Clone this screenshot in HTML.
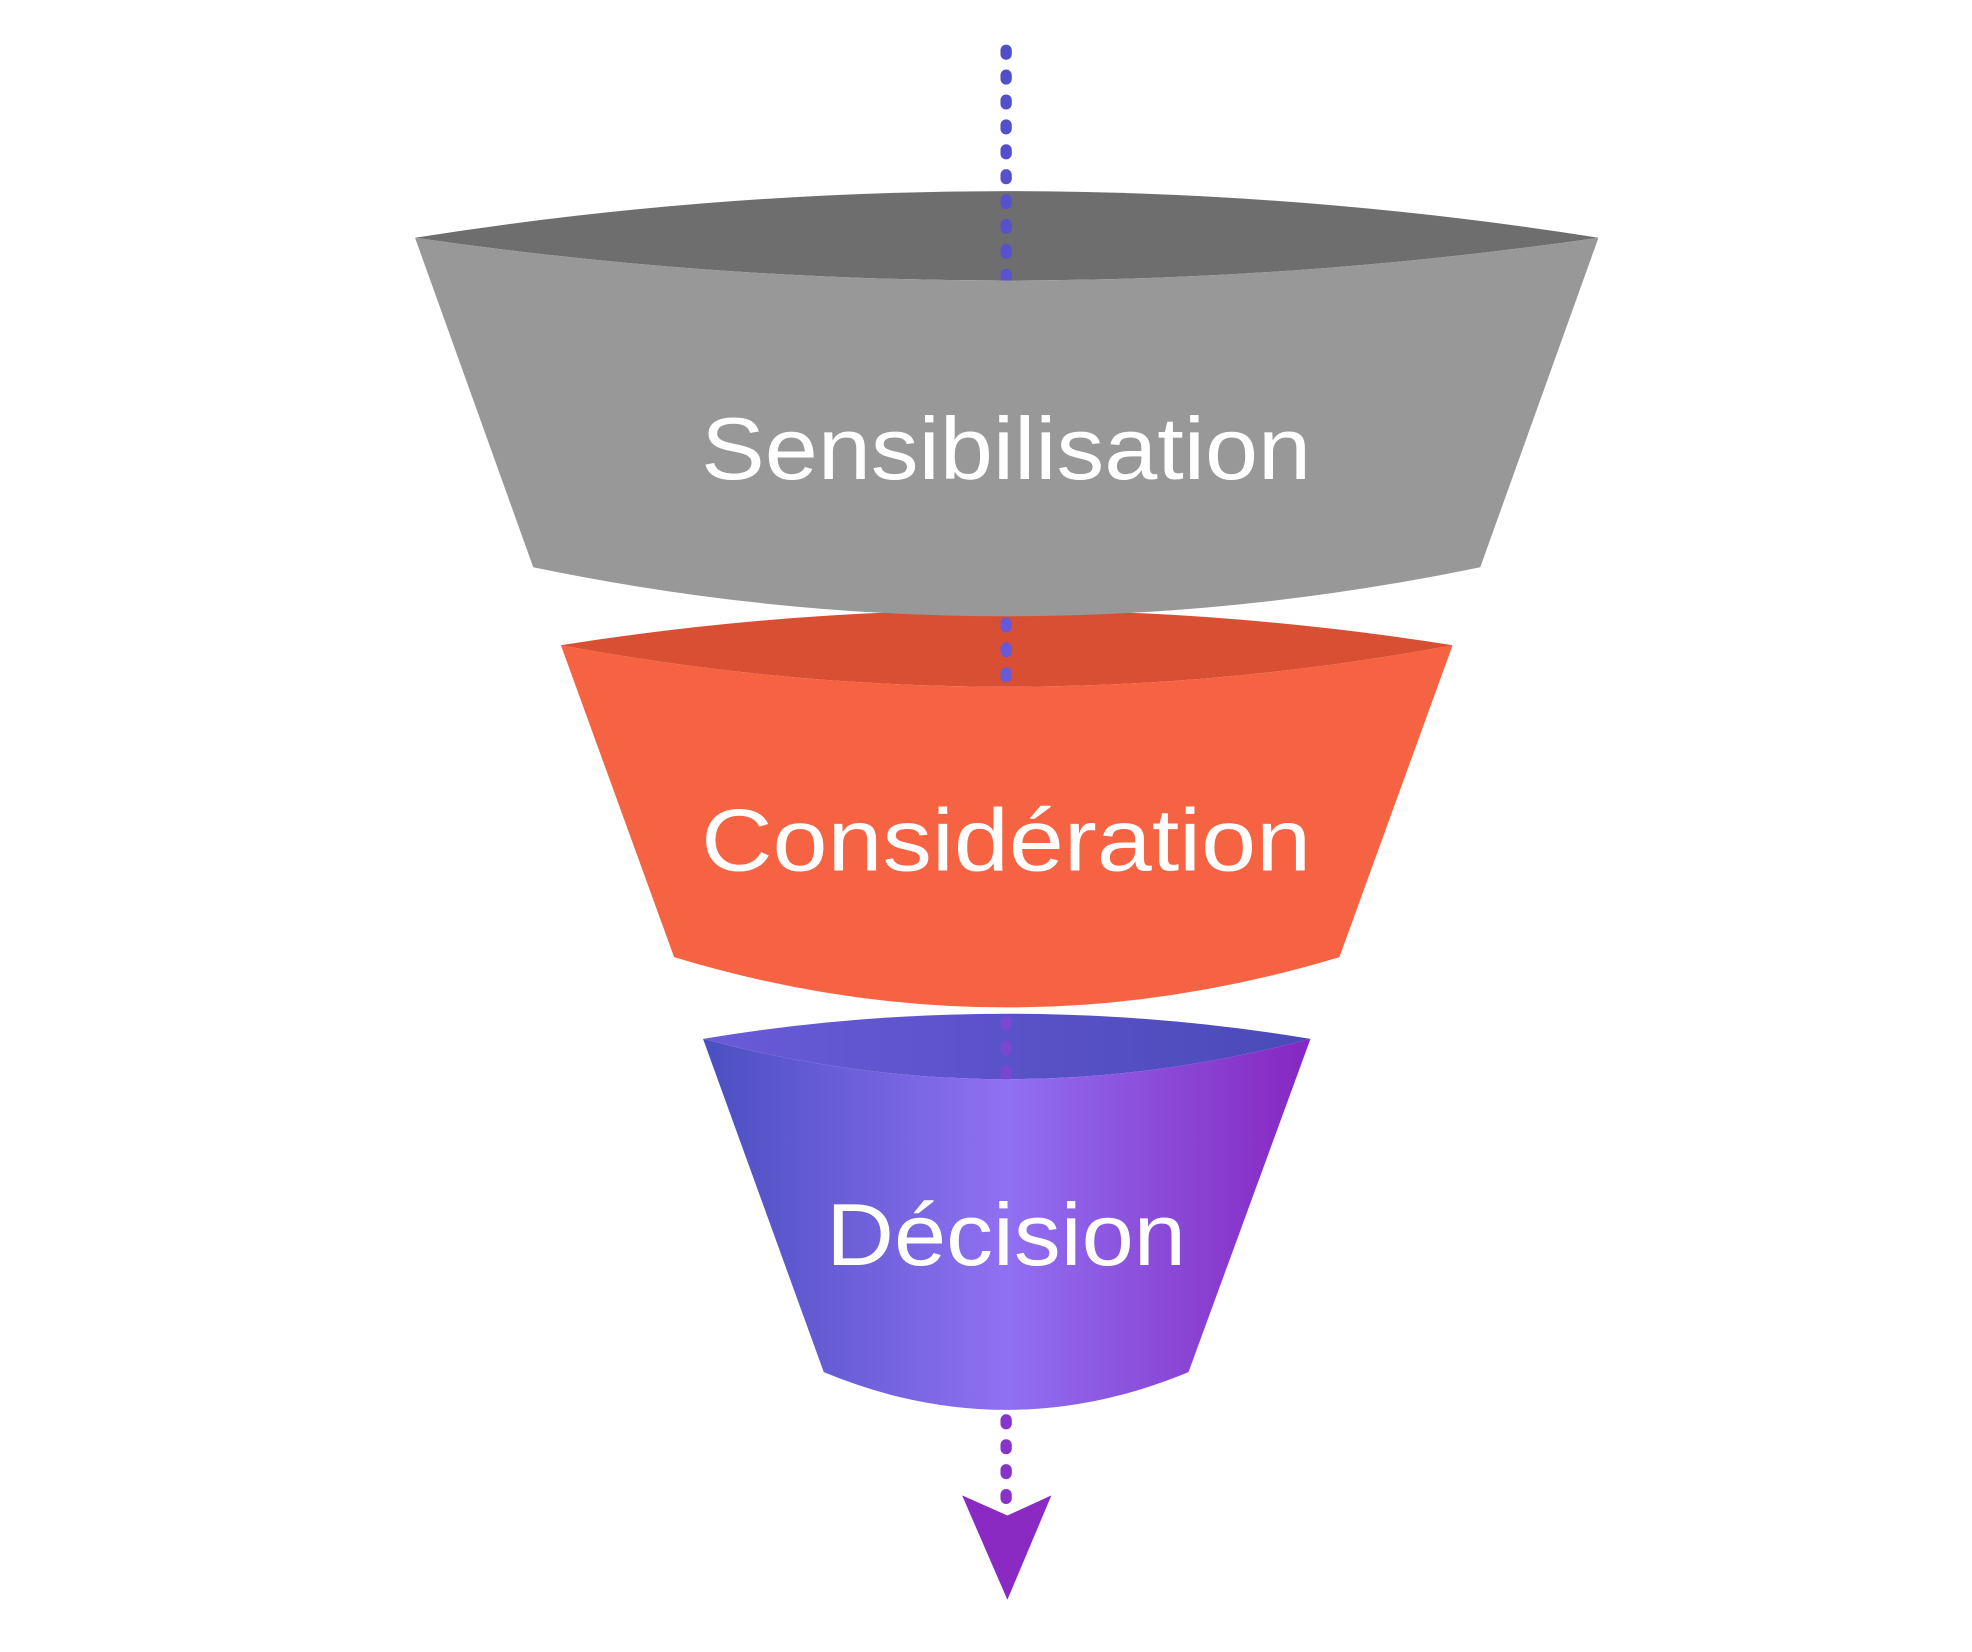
<!DOCTYPE html>
<html><head><meta charset="utf-8"><style>
html,body{margin:0;padding:0;background:#fff;}
svg{display:block;}
</style></head><body>
<svg width="1972" height="1652" viewBox="0 0 1568 1313.5" preserveAspectRatio="none" xmlns="http://www.w3.org/2000/svg">
<defs>
<linearGradient id="g3" x1="559" y1="0" x2="1042" y2="0" gradientUnits="userSpaceOnUse">
<stop offset="0" stop-color="#4a4fc0"/>
<stop offset="0.5" stop-color="#9070f2"/>
<stop offset="1" stop-color="#8626c0"/>
</linearGradient>
<linearGradient id="g3t" x1="559" y1="0" x2="1042" y2="0" gradientUnits="userSpaceOnUse">
<stop offset="0" stop-color="#6a5ad8"/>
<stop offset="1" stop-color="#4a4ab8"/>
</linearGradient>
<linearGradient id="gl" x1="0" y1="38" x2="0" y2="1200" gradientUnits="userSpaceOnUse">
<stop offset="0" stop-color="#4e4fc8"/>
<stop offset="0.45" stop-color="#6a5ad8"/>
<stop offset="1" stop-color="#8a30c8"/>
</linearGradient>
</defs>
<path d="M330,189 Q800,115 1271,189 Q800,257 330,189 Z" fill="#6e6e6e"/>
<path d="M446,513 Q800,457 1155,513 Q800,579 446,513 Z" fill="#d94f33"/>
<path d="M559,826 Q800,786 1042,826 Q800,890 559,826 Z" fill="url(#g3t)"/>
<line x1="800" y1="40" x2="800" y2="1200" stroke="url(#gl)" stroke-width="9" stroke-linecap="round" stroke-dasharray="3 16.8"/>
<path d="M330,189 Q800,257 1271,189 L1177,451 Q800,529 424,451 Z" fill="#979897"/>
<path d="M446,513 Q800,579 1155,513 L1065,761 Q800,841 536,761 Z" fill="#f56343"/>
<path d="M559,826 Q800,890 1042,826 L945,1091 Q800,1151 655,1091 Z" fill="url(#g3)"/>
<path d="M765,1189 L801,1205 L836,1189 L801,1272 Z" fill="#8a2ac2"/>
<g fill="#fff" font-family="Liberation Sans, sans-serif" font-size="70" text-anchor="middle">
<text x="800" y="381" textLength="485" lengthAdjust="spacingAndGlyphs">Sensibilisation</text>
<text x="800" y="692" textLength="485" lengthAdjust="spacingAndGlyphs">Considération</text>
<text x="800" y="1006" textLength="286" lengthAdjust="spacingAndGlyphs">Décision</text>
</g>
</svg>
</body></html>
